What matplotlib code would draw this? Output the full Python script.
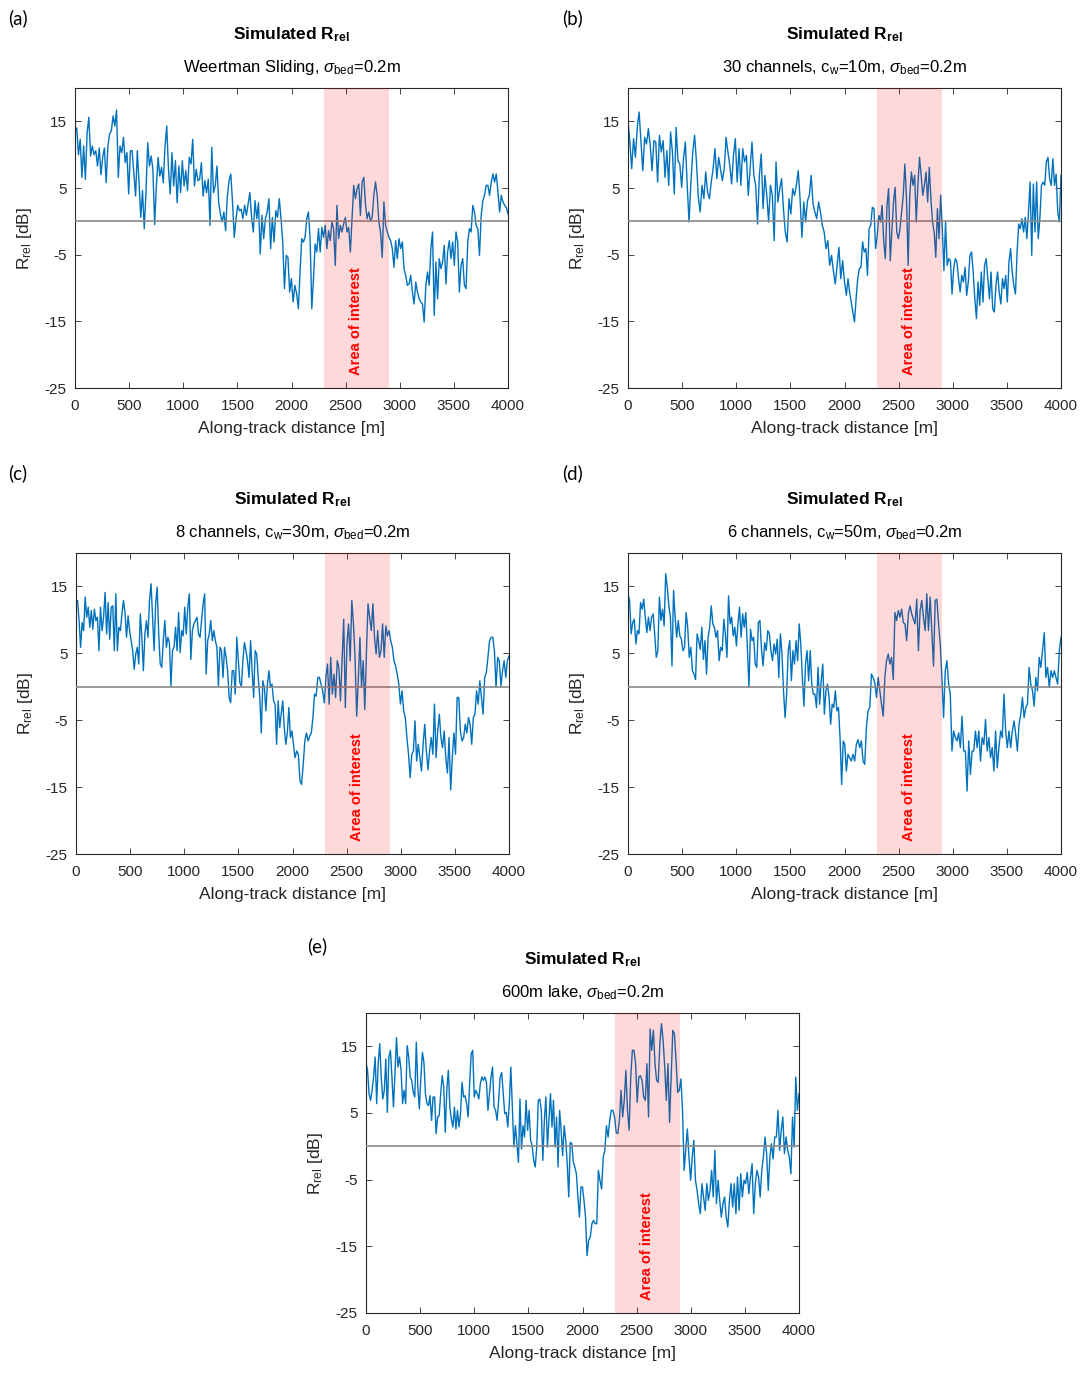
import numpy as np
import matplotlib
matplotlib.use('Agg')
import matplotlib.pyplot as plt

plt.rcParams['font.family'] = ['Liberation Sans', 'DejaVu Sans']
plt.rcParams['mathtext.fontset'] = 'custom'
plt.rcParams['mathtext.rm'] = 'Liberation Sans'
plt.rcParams['mathtext.it'] = 'Liberation Sans:italic'
plt.rcParams['mathtext.bf'] = 'Liberation Sans:bold'
plt.rcParams['axes.unicode_minus'] = False

# ---------------- data (R_rel in dB) ----------------
# each panel: samples from 0 m to left_end, then from right_start to 4000 m
a_left = [13.3, 14, 10, 12.3, 6.6, 11.3, 6.3, 13.3, 15.6, 9.8, 11.3, 10, 10.6, 8.3, 11, 7, 9.6, 11, 5.8, 11.3,
          13.1, 13.6, 15.8, 14.3, 16.7, 6.6, 11.3, 10.3, 12.6, 8.8, 10.3, 4.1, 10.6, 10.6, 7.1, 3.8, 10.6, 5.8,
          0.6, 4.6, -1.1, 4.3, 11.8, 8.3, 9.8, 7.8, -0.5, 5.3, 9.6, 6.8, 8.1, 5.8, 11.3, 14.3, 7.8, 4.1, 10.3,
          5.3, 9.1, 2.8, 8.3, 4.3, 9.1, 5.3, 7.6, 4.6, 9.6, 8.6, 12.3, 5.3, 7.8, 6.1, 6.3, 8.8, 3.8, 6.1, 4.3,
          6.3, -0.6, 11.1, 4.3, 5.3, 8.3, 2.8, 1.1, -0.1, 1.4, -1.4, 3.8, 6.1, 7.1, 2.8, -2.4, 0.4, 2.4, 1.6,
          1.8, 0.4, 2.4, 0.9, 2.6, 4.3, 0.6, -1.6, 3.1, 0.4, 2.8, -4.9, 0.9, -2.6, 0.4, 1.4, 3.4, -4.1, 0.6,
          -3.1, 1.6, 0.6, 3.4, 0.4, -3.1, -10.1, -5.1, -5.4, -10.6, -8.6, -12.1, -9.6]
a_right = [-10.9, -13.1, -7.6, -2.6, -3.1, -2.4, 0.4, 1.4, -2.6, -13.1, -8.6, -3.4, -4.6, -1.1, -4.6, -0.9, -2.4,
           -0.6, -4.1, -1.4, -2.9, -0.1, -1.1, -6.6, 2.4, -2.6, -0.6, -1.6, -0.4, 0.6, -1.6, -0.9, -4.6, 0.4, 5.4,
           3.4, 4.9, 5.6, 0.9, 5.9, 6.6, 2.6, 0.4, 1.4, 0.1, 0.6, 3.9, 5.9, 3.9, -0.1, -1.6, -5.4, 2.9, -0.6,
           -1.6, -2.4, -2.9, -4.1, -6.9, -2.9, -5.6, -2.6, -4.1, -3.1, -7.1, -8.1, -9.6, -9.4, -8.1, -10.6, -12.4,
           -9.1, -10.6, -11.6, -12.1, -12.4, -15.1, -9.6, -7.6, -9.6, -4.1, -1.6, -14.1, -6.1, -11.6, -5.6, -7.1,
           -6.1, -3.6, -9.4, -4.6, -2.9, -5.6, -3.1, -6.6, -1.6, -3.1, -10.6, -6.6, -5.6, -9.6, -10.1, -3.1, -1.1,
           -1.6, 2.4, 1.4, -0.6, -1.1, -5.1, 0.9, 3.1, 3.9, 5.4, 5.4, 3.9, 5.9, 7.1, 5.9, 7.1, 4.4, 1.4, 3.9, 2.9,
           2.4, 2.1, 1.1]
a_split = (2031, 2048)

b_left = [15.1, 11.9, 7.9, 12.4, 9.6, 14.1, 16.4, 11.9, 7.6, 12.6, 11.6, 13.9, 11.4, 7.6, 12.1, 11.9, 5.9, 12.9,
          10.4, 12.1, 6.6, 10.6, 5.4, 13.4, 10.4, 4.1, 14.1, 9.1, 8.6, 5.1, 9.4, 11.9, 5.4, -0.1, 5.9, 10.4, 12.9,
          8.9, 3.6, 1.4, 5.4, 3.4, 7.4, 4.4, 3.4, 5.9, 7.9, 10.9, 6.4, 9.6, 7.9, 6.1, 7.9, 12.6, 10.4, 8.4, 5.6,
          9.9, 12.4, 5.9, 10.9, 5.4, 10.9, 8.9, 9.9, 3.9, 7.9, 11.9, 6.9, 5.4, -0.4, 6.9, 10.1, 1.9, 6.9, 3.9,
          -0.1, 5.4, 3.9, -2.9, 8.9, 2.9, 4.9, 6.4, 1.9, -1.6, -3.1, 3.4, 1.1, 4.9, 3.9, 5.4, 7.6, 3.4, -2.4, 2.9,
          -0.1, 3.1, 3.9, 6.9, 2.6, 1.4, 0.4, 2.9, 1.4, -0.6, -1.6, -4.1, -2.9, -6.6, -5.1, -7.4, -9.4, -6.6,
          -3.9, -8.6, -5.9, -9.1, -11.1]
b_right = [-8.6, -10.6, -12.1, -13.6, -15.1, -11.6, -8.6, -7.1, -6.9, -3.1, -4.6, -4.1, -8.1, -1.1, -0.6, 2.1, 1.9,
           -4.1, -2.1, 0.9, -0.1, 2.4, -3.1, -5.6, 2.4, 4.9, -5.9, -1.6, 2.9, 5.1, -1.6, -2.6, -1.1, 1.4, 3.9, 8.6,
           3.4, -6.6, 3.9, 7.4, 5.4, 6.9, -0.1, 5.4, 9.6, 6.9, 3.9, 5.4, 7.4, 2.9, 8.1, 3.4, -0.1, -1.6, -5.4,
           1.9, -2.6, 3.9, -1.1, -7.4, -0.1, -6.6, -5.6, -5.9, -10.9, -7.1, -5.6, -6.1, -8.6, -10.6, -8.1, -9.1,
           -6.9, -11.1, -9.1, -5.1, -4.6, -7.6, -11.6, -14.6, -9.1, -12.6, -7.6, -12.1, -6.6, -5.6, -8.6, -11.6,
           -7.6, -13.1, -13.6, -9.6, -7.6, -10.6, -12.4, -8.6, -10.1, -8.1, -12.1, -6.1, -4.1, -7.6, -9.6, -10.9,
           -4.6, -0.4, -1.1, 0.4, -1.6, 0.6, -2.6, 1.4, 5.9, -5.1, 5.6, -1.6, 5.9, -2.6, 0.4, 5.4, 5.9, 5.4, 8.9,
           9.6, 6.4, 5.4, 9.4, 5.4, 7.1, 1.4, -0.1, 6.9]
b_split = (2017, 2032)

c_left = [12.6, 12.9, 9.9, 5.9, 9.6, 8.4, 13.4, 10.4, 11.9, 8.9, 11.4, 8.6, 11.6, 9.9, 10.4, 5.4, 11.9, 8.4, 10.4,
          14.1, 7.9, 12.6, 7.1, 11.9, 12.1, 5.4, 13.9, 5.4, 8.9, 8.4, 10.9, 12.9, 11.1, 7.4, 10.6, 8.4, 6.9, 5.4,
          2.6, 4.9, 5.9, 3.4, 10.9, 7.4, 2.4, 7.9, 9.9, 7.4, 12.9, 15.4, 10.4, 5.4, 12.4, 14.9, 7.9, 3.4, 2.9,
          6.9, 9.9, 5.9, 7.4, 6.6, 0.1, 5.4, 5.9, 8.9, 5.4, 11.1, 5.1, 8.4, 7.6, 11.9, 7.9, 11.9, 13.9, 4.1, 8.4,
          9.4, 9.9, 10.4, 7.9, 7.4, 9.9, 12.4, 13.9, 1.9, 6.9, 7.9, 9.9, 6.9, 8.4, 6.9, 5.9, 0.1, 5.9, 5.4, 1.4,
          5.9, 4.4, 2.4, -1.6, -2.4, 2.4, 2.4, -1.1, 7.4, 3.9, 0.6, 0.1, 3.9, 6.6, 5.4, 3.9, 1.4, 6.9, 2.4, -1.6,
          5.4, 4.9, 1.4, -1.6, -6.9, 0.9, -0.1, -3.6, 0.4, 2.4, -0.1, 0.4, -2.1, -2.6, -8.6, -2.1, -6.1, -4.1,
          -2.1, -6.1, -8.6, -6.9, -3.1, -7.6, -6.6, -8.6, -10.6]
c_right = [-9.6, -10.1, -14.1, -14.6, -11.6, -8.1, -6.9, -8.1, -7.4, -6.9, -4.6, -1.1, -1.4, 1.4, 1.4, 0.4, -0.6,
           -2.4, 1.4, 3.4, -2.6, 4.4, -1.1, 1.9, -1.6, 3.9, 2.9, -2.1, 3.9, 10.1, -3.1, 6.4, 9.4, 3.9, 12.9, 9.4,
           4.4, -4.4, 0.9, 7.4, -0.1, 3.9, -3.4, 4.9, 12.4, 10.4, 8.4, 12.4, 7.4, 4.9, 8.4, 4.4, 5.4, 9.4, 4.4,
           9.1, 7.6, 8.4, 6.9, 5.9, 3.9, 3.1, 1.9, 0.4, -2.6, -0.6, -3.6, -4.6, -7.6, -10.1, -13.6, -10.1, -9.6,
           -5.1, -11.1, -8.6, -10.6, -12.6, -8.6, -5.6, -9.6, -12.4, -9.6, -7.6, -10.1, -2.6, -10.6, -6.6, -4.1,
           -7.6, -9.1, -6.6, -10.6, -12.9, -7.6, -15.4, -10.6, -6.9, -10.1, -1.6, -1.6, -6.6, -8.1, -7.6, -5.6,
           -6.9, -4.6, -5.6, -8.6, -4.6, -4.1, -0.6, -2.6, 0.9, -1.6, -4.1, 1.4, 2.1, 4.4, 6.9, 7.4, 7.4, 5.4,
           -0.1, 4.4, 3.9, 0.1, 2.4, 3.9, 1.4, 3.9, 4.6]
c_split = (2023, 2039)

d_left = [13.9, 12.9, 7.9, 9.6, 10.1, 6.4, 8.4, 7.9, 12.6, 11.6, 13.1, 10.4, 8.1, 10.4, 8.4, 10.4, 10.9, 7.9, 4.4,
          5.4, 13.4, 9.9, 11.6, 9.1, 16.9, 14.9, 12.1, 10.4, 3.1, 14.4, 10.4, 7.4, 9.9, 7.6, 7.1, 5.4, 5.9, 11.1,
          8.9, 4.4, 5.9, 2.4, 1.9, 1.1, 7.9, 6.9, 5.6, 8.9, 4.1, 6.9, 1.9, 7.4, 8.9, 12.1, 9.4, 8.9, 7.4, 8.4,
          3.9, 5.9, 5.4, 10.1, 7.9, 4.4, 13.6, 9.4, 10.4, 7.6, 8.9, 6.1, 9.4, 11.9, 7.4, 10.9, 8.9, 11.1, 5.9,
          -0.1, 8.6, 6.9, 7.4, 3.4, 2.9, 9.6, 9.9, 5.6, 3.1, 6.6, 5.4, 8.4, 7.9, 5.4, 3.9, 6.4, 4.9, 7.1, 1.4,
          7.9, 5.1, -0.6, -4.6, -1.1, 5.4, 6.9, 0.9, 5.4, 3.4, 6.9, 3.9, 9.4, 6.4, 1.4, -2.9, 3.4, 5.4, 0.9, 5.4,
          0.4, -1.1, -1.1, -3.1, 2.9, -2.6, 0.9, 3.4, -4.1, -0.6, 0.4, -1.6, -5.6, -2.6, -3.1, -0.6, -3.6, -3.1,
          -7.6, -14.6, -8.1, -8.6, -12.6]
d_right = [-10.1, -10.6, -11.1, -10.1, -11.1, -8.6, -7.9, -9.1, -8.1, -11.1, -11.6, -6.1, -3.6, -3.1, 1.9, 1.4,
           0.6, -1.6, 1.4, -0.6, -2.6, -4.4, 1.4, 3.9, 4.9, 3.4, 4.4, 1.1, 11.1, 9.9, 11.4, 10.4, 11.6, 9.6, 9.4,
           6.9, 10.9, 12.1, 10.9, 10.1, 9.4, 13.1, 5.4, 11.4, 12.9, 10.4, 8.4, 13.9, 8.4, 13.4, 8.4, 3.1, 12.9,
           13.1, 9.4, 6.4, 1.4, -4.6, 2.4, 3.9, 0.4, -1.1, -9.6, -6.6, -7.6, -8.1, -6.9, -9.1, -4.4, -9.6, -9.6,
           -15.6, -8.1, -13.1, -9.6, -9.6, -6.6, -9.1, -6.6, -11.1, -7.6, -8.6, -4.9, -9.6, -7.6, -10.6, -9.1,
           -12.6, -6.6, -12.1, -9.1, -6.6, -7.6, -1.1, -6.6, -9.1, -6.6, -9.1, -6.6, -5.1, -7.1, -9.6, -5.6, -4.1,
           -1.6, -4.6, -3.1, -2.6, 2.9, 0.4, -0.6, -2.9, 1.4, -0.6, 4.4, 2.9, 5.4, 8.1, 1.4, 2.9, -0.1, 2.4, 1.4,
           2.4, 1.4, 0.4, 5.4, 7.4]
d_split = (2017, 2032)

e_left = [12.6, 11.4, 7.9, 6.9, 8.4, 10.4, 13.4, 6.4, 12.4, 15.4, 10.4, 7.1, 8.4, 13.1, 5.1, 13.4, 14.4, 10.4, 5.9,
          10.9, 16.3, 11.9, 13.4, 11.4, 6.4, 8.4, 6.4, 15.1, 13.4, 10.4, 9.9, 8.1, 7.4, 15.6, 8.9, 5.6, 10.4, 14.1,
          12.6, 7.9, 6.4, 6.1, 7.6, 3.9, 7.4, 7.4, 1.9, 4.4, 4.6, 7.9, 10.6, 8.9, 2.1, 8.4, 11.4, 5.9, 4.1, 2.9,
          5.9, 2.6, 5.4, 2.9, 4.9, 9.6, 7.4, 7.6, 6.4, 4.4, 9.4, 13.9, 14.4, 7.4, 8.4, 7.9, 7.1, 9.4, 10.4, 9.9,
          10.4, 9.6, 5.4, 7.9, 10.4, 11.9, 5.9, 5.4, 3.9, 6.9, 10.4, 11.1, 7.9, 4.9, 5.1, 2.9, 6.4, 11.9, 5.9,
          -0.1, 3.1, 0.4, -2.4, 7.1, -0.4, 3.1, 1.4, 6.9, 2.4, 5.4, 0.9, 0.1, -2.1, -3.1, -0.1, 6.9, 7.1, 5.4,
          -2.1, 3.9, 7.4, -0.1, 3.9, 7.9, 2.9, 6.9, -0.1, 4.4, -3.1, 5.4, 2.4, -1.4, 3.1, 0.9, -2.6, -7.6, 0.6,
          0.4, -2.4, -3.1, -4.1, -7.6, -10.6, -6.1, -6.1, -8.1, -10.6, -16.4]
e_right = [-14.1, -13.6, -11.6, -11.1, -11.6, -11.6, -3.6, -5.1, -6.4, -1.6, -0.6, 3.1, 1.4, 3.9, 5.4, 5.4, 4.4,
           2.1, 1.9, 3.9, 8.4, 4.4, 6.9, 11.4, 5.4, 2.4, 10.4, 14.4, 14.4, 12.4, 6.6, 10.4, 10.6, 9.9, 7.4, 6.9,
           12.4, 4.4, 17.6, 14.4, 17.4, 12.4, 9.9, 9.6, 15.4, 18.4, 15.9, 11.9, 6.9, 12.4, 3.6, 10.4, 17.4, 16.9,
           12.9, 8.1, 8.4, 10.1, 5.4, -3.6, -0.6, 2.6, -1.6, -5.1, -1.6, 0.9, -5.1, -6.6, -8.6, -10.1, -5.6, -7.6,
           -9.6, -5.6, -8.1, -6.6, -3.6, -7.6, -0.6, -8.6, -5.1, -8.1, -10.6, -8.6, -7.6, -10.6, -12.1, -8.1, -5.6,
           -9.1, -5.6, -10.1, -4.6, -9.6, -4.1, -7.6, -5.1, -5.6, -3.9, -7.1, -4.6, -2.6, -10.1, -5.6, -3.6, -4.6,
           -7.6, -3.6, -1.6, 1.4, -1.1, -6.6, -1.6, 0.4, -1.9, 1.4, 1.4, 5.4, -0.6, 2.4, 4.4, -1.1, 1.4, -0.6,
           -1.6, -4.1, 4.4, -0.1, 10.4, 5.4, 7.9]
e_split = (2042, 2057)

labels = ['(a)', '(b)', '(c)', '(d)', '(e)']
subtitles = [r'Weertman Sliding, $\sigma_{\rm bed}$=0.2m',
             r'30 channels, c$_{\rm w}$=10m, $\sigma_{\rm bed}$=0.2m',
             r'8 channels, c$_{\rm w}$=30m, $\sigma_{\rm bed}$=0.2m',
             r'6 channels, c$_{\rm w}$=50m, $\sigma_{\rm bed}$=0.2m',
             r'600m lake, $\sigma_{\rm bed}$=0.2m']
lefts = [a_left, b_left, c_left, d_left, e_left]
rights = [a_right, b_right, c_right, d_right, e_right]
splits = [a_split, b_split, c_split, d_split, e_split]
area_x = (2300, 2900)
xticks = [0, 500, 1000, 1500, 2000, 2500, 3000, 3500, 4000]
yticks = [-25, -15, -5, 5, 15]

# ---------------- layout ----------------
W, H = 1089, 1373
boxes = [(75, 88, 508, 388), (628, 88, 1061, 388), (76, 553, 509, 854),
         (628, 553, 1061, 854), (366, 1013, 799, 1313)]
label_pos = [(8, 18), (562, 18), (8, 473), (562, 473), (307, 946)]

fig = plt.figure(figsize=(W / 100, H / 100), dpi=100)
dark = '#262626'

for i in range(5):
    l, t, r, b = boxes[i]
    ax = fig.add_axes([l / W, 1 - b / H, (r - l) / W, (b - t) / H])
    left, right = lefts[i], rights[i]
    s0, s1 = splits[i]
    x = np.concatenate([np.linspace(0, s0, len(left)), np.linspace(s1, 4000, len(right))])
    y = np.concatenate([left, right])
    ax.plot(x, y, color='#0072BD', lw=1.0, zorder=2)
    ax.axhline(0, color='#8a8a8a', lw=1.2, zorder=3)
    ax.axvspan(area_x[0], area_x[1], color='red', alpha=0.15, lw=0, zorder=4)
    ax.text(sum(area_x) / 2, -15, 'Area of interest', rotation=90, color='red', fontweight='bold',
            ha='center', va='center', fontsize=10.5, family=['Liberation Sans'], zorder=5)
    ax.set_xlim(0, 4000)
    ax.set_ylim(-25, 20)
    ax.set_xticks(xticks)
    ax.set_yticks(yticks)
    ax.tick_params(direction='in', top=True, right=True, length=4, width=0.6,
                   labelsize=11, colors=dark)
    ax.tick_params(axis='x', pad=8)
    ax.tick_params(axis='y', pad=6)
    for sp in ax.spines.values():
        sp.set_color(dark)
        sp.set_linewidth(0.8)
    ax.set_xlabel('Along-track distance [m]', fontsize=12.5, color=dark)
    ax.set_ylabel(r'R$_{\rm rel}$ [dB]', fontsize=12.5, color=dark)
    ax.xaxis.set_label_coords(0.5, -33 / 300)
    ax.yaxis.set_label_coords(-41 / 433, 0.5)
    ax.text(0.5, 1 + 49 / 300, r'Simulated R$_{\bf rel}$', transform=ax.transAxes, ha='center',
            va='baseline', fontsize=12.5, fontweight='bold', color='black')
    ax.text(0.5, 1 + 16 / 300, subtitles[i], transform=ax.transAxes, ha='center',
            va='baseline', fontsize=12, color='black')
    lx, ly = label_pos[i]
    fig.text(lx / W, 1 - ly / H, labels[i], fontsize=13.5, family=['Lato', 'DejaVu Sans'],
             va='center', ha='left')

fig.savefig('out.png', dpi=100, facecolor='white')
